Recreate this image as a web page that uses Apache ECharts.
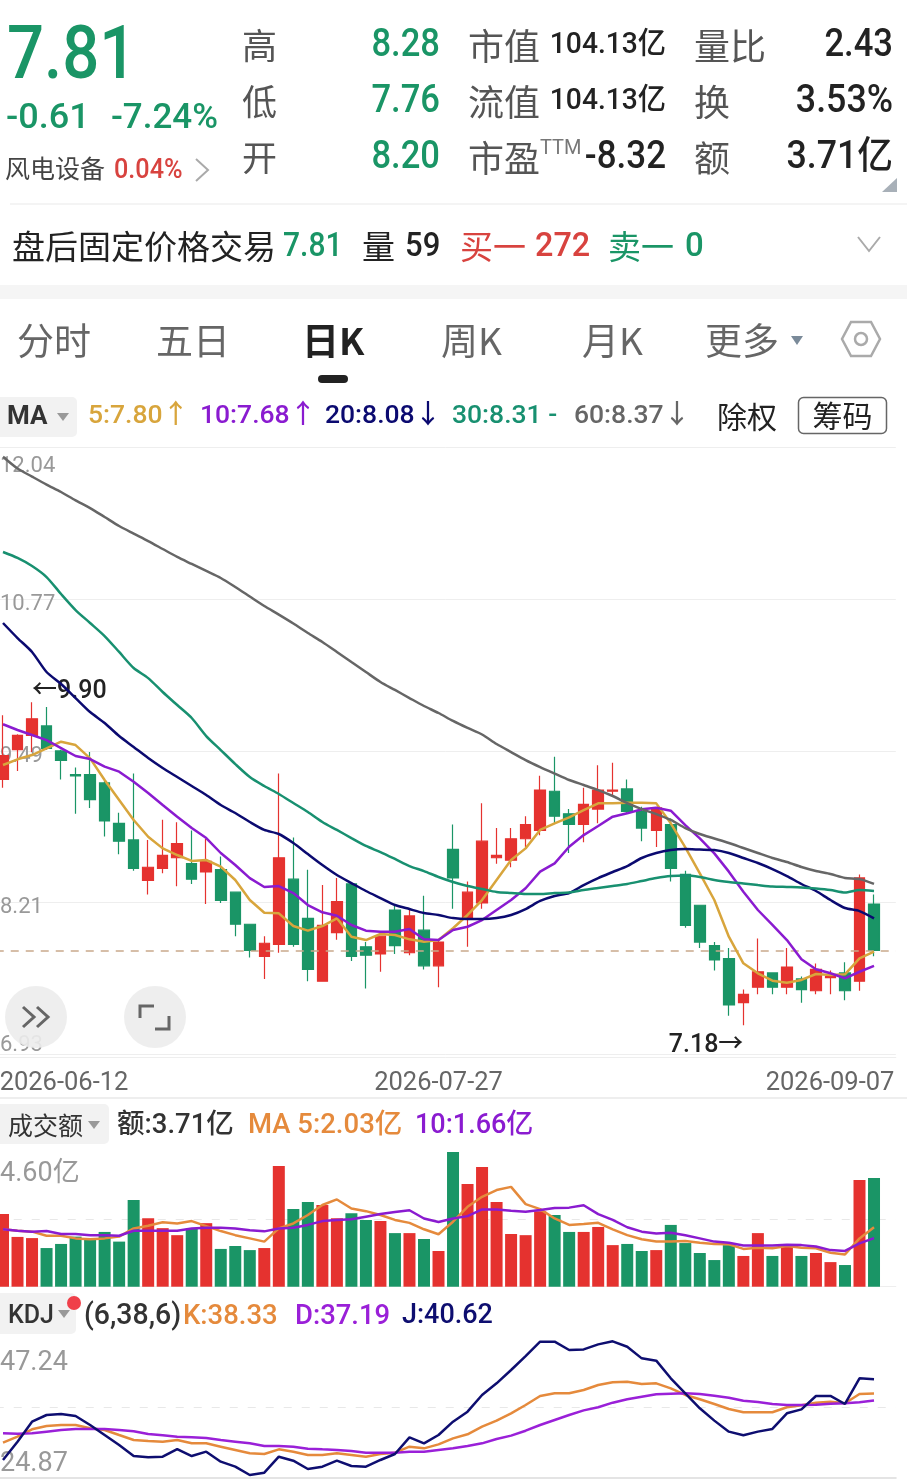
<!DOCTYPE html>
<html>
<head>
<meta charset="utf-8">
<style>html,body{margin:0;padding:0;background:#fff;overflow:hidden;width:907px;height:1480px}#c{position:absolute;left:-10px;top:0;width:917px;height:1480px}</style>
<script src="https://cdn.jsdelivr.net/npm/echarts@6/dist/echarts.min.js"></script>
</head>
<body>
<div id="c"></div>
<script>
const dates = ['2026-06-12','2026-06-15','2026-06-16','2026-06-17','2026-06-18','2026-06-22','2026-06-23','2026-06-24','2026-06-25','2026-06-26','2026-06-29','2026-06-30','2026-07-01','2026-07-02','2026-07-03','2026-07-06','2026-07-07','2026-07-08','2026-07-09','2026-07-10','2026-07-13','2026-07-14','2026-07-15','2026-07-16','2026-07-17','2026-07-20','2026-07-21','2026-07-22','2026-07-23','2026-07-24','2026-07-27','2026-07-28','2026-07-29','2026-07-30','2026-07-31','2026-08-03','2026-08-04','2026-08-05','2026-08-06','2026-08-07','2026-08-10','2026-08-11','2026-08-12','2026-08-13','2026-08-14','2026-08-17','2026-08-18','2026-08-19','2026-08-20','2026-08-21','2026-08-24','2026-08-25','2026-08-26','2026-08-27','2026-08-28','2026-08-31','2026-09-01','2026-09-02','2026-09-03','2026-09-04','2026-09-07'];
const opens = [9.25,9.50,9.62,9.70,9.49,9.29,9.29,9.22,8.88,8.74,8.40,8.50,8.59,8.54,8.47,8.49,8.30,8.03,7.76,7.86,8.41,8.08,7.55,7.96,8.37,7.84,7.78,8.15,7.79,7.98,7.68,8.66,8.08,8.21,8.59,8.57,8.75,8.82,9.15,8.96,8.87,9.00,9.15,9.17,8.98,8.82,8.87,8.45,8.19,7.85,7.74,7.37,7.50,7.62,7.50,7.57,7.47,7.58,7.62,7.55,8.20];
const closes = [9.45,9.62,9.76,9.51,9.41,9.28,9.08,8.90,8.73,8.50,8.51,8.61,8.71,8.41,8.56,8.23,8.03,7.81,7.87,8.59,7.86,7.65,8.02,8.22,7.76,7.77,7.93,7.85,8.10,7.68,7.88,8.42,8.30,8.73,8.61,8.75,8.87,9.16,8.94,8.87,9.04,9.16,9.16,8.98,8.84,9.01,8.50,8.02,7.88,7.73,7.35,7.44,7.63,7.50,7.67,7.48,7.65,7.59,7.47,8.42,7.81];
const lows = [9.18,9.32,9.48,9.50,9.25,8.96,9.01,8.77,8.62,8.48,8.28,8.46,8.35,8.37,8.20,8.21,7.93,7.75,7.57,7.79,7.84,7.55,7.55,7.90,7.72,7.49,7.63,7.78,7.77,7.65,7.50,8.16,7.84,8.16,8.54,8.51,8.68,8.78,8.88,8.63,8.72,8.88,9.11,8.97,8.73,8.68,8.39,8.00,7.83,7.64,7.26,7.18,7.44,7.44,7.44,7.37,7.44,7.44,7.39,7.47,7.76];
const highs = [9.79,9.63,9.90,9.86,9.50,9.35,9.48,9.24,8.97,9.30,8.74,8.91,8.89,8.82,8.75,8.60,8.30,8.03,7.93,9.30,8.76,8.49,8.36,8.42,8.37,7.88,7.93,8.19,8.16,8.27,7.89,8.87,8.39,9.05,8.84,8.84,8.94,9.28,9.44,9.00,9.18,9.37,9.39,9.25,9.02,9.01,8.92,8.48,8.19,7.88,7.83,7.48,7.91,7.62,7.83,7.59,7.70,7.64,7.71,8.45,8.28];
const ma5 = [9.371,9.419,9.455,9.511,9.567,9.539,9.427,9.245,9.076,8.908,8.767,8.669,8.613,8.563,8.571,8.515,8.403,8.234,8.127,8.122,8.015,7.976,8.015,8.08,7.925,7.897,7.948,7.939,7.903,7.883,7.897,7.996,8.108,8.234,8.403,8.571,8.669,8.824,8.88,8.93,8.992,9.048,9.048,9.053,9.053,9.048,8.88,8.678,8.459,8.234,7.925,7.701,7.617,7.555,7.538,7.561,7.611,7.603,7.608,7.743,7.80];
const ma10 = [9.714,9.666,9.624,9.581,9.514,9.447,9.421,9.357,9.315,9.23,9.135,9.034,8.936,8.84,8.756,8.63,8.529,8.419,8.344,8.352,8.293,8.192,8.131,8.102,8.024,7.976,7.967,7.967,7.99,7.903,7.897,7.981,8.009,8.065,8.15,8.234,8.333,8.473,8.543,8.683,8.781,8.857,8.936,8.964,8.998,9.011,8.986,8.865,8.753,8.627,8.473,8.304,8.15,8.024,7.897,7.735,7.651,7.617,7.575,7.63,7.68];
const ma20 = [10.567,10.44,10.323,10.154,10.053,9.935,9.817,9.725,9.615,9.523,9.43,9.346,9.27,9.194,9.118,9.034,8.967,8.891,8.824,8.79,8.714,8.621,8.529,8.445,8.377,8.31,8.251,8.192,8.158,8.125,8.108,8.082,8.074,8.074,8.082,8.108,8.158,8.226,8.268,8.293,8.36,8.419,8.47,8.52,8.588,8.63,8.655,8.663,8.659,8.655,8.63,8.588,8.546,8.495,8.436,8.369,8.31,8.234,8.167,8.141,8.08];
const ma30 = [11.165,11.115,11.047,10.954,10.811,10.676,10.567,10.457,10.323,10.188,10.103,9.986,9.876,9.767,9.615,9.497,9.379,9.27,9.194,9.127,9.051,8.975,8.891,8.824,8.756,8.689,8.638,8.58,8.52,8.478,8.428,8.386,8.352,8.327,8.302,8.293,8.285,8.285,8.293,8.297,8.318,8.335,8.352,8.369,8.394,8.419,8.436,8.44,8.428,8.403,8.386,8.373,8.36,8.348,8.344,8.34,8.331,8.318,8.297,8.318,8.31];
const ma60 = [11.967,11.868,11.8,11.733,11.67,11.60,11.535,11.46,11.384,11.32,11.257,11.19,11.123,11.064,11.005,10.946,10.87,10.79,10.71,10.638,10.563,10.483,10.407,10.323,10.238,10.154,10.07,10.003,9.935,9.868,9.809,9.742,9.683,9.628,9.548,9.48,9.413,9.354,9.299,9.245,9.203,9.16,9.11,9.05,9.0,8.958,8.908,8.84,8.79,8.752,8.714,8.672,8.63,8.588,8.554,8.512,8.478,8.453,8.42,8.41,8.37];
const turnover = [2.48,1.70,1.66,1.32,1.46,1.71,1.62,1.87,1.54,2.96,2.34,2.00,1.76,1.99,2.17,1.29,1.39,1.25,1.32,4.12,2.65,2.89,2.79,2.34,2.51,2.28,2.24,1.83,1.83,1.63,1.22,4.60,3.51,4.09,2.89,1.80,1.76,2.58,2.45,1.87,1.87,2.04,1.42,1.46,1.22,1.25,2.11,1.49,1.15,0.91,1.42,1.05,1.83,1.05,1.39,1.05,1.15,0.84,0.74,3.64,3.71];
const turnoverMa5 = [1.96,1.91,1.88,1.74,1.74,1.65,1.62,1.65,1.71,1.99,2.08,2.20,2.16,2.24,2.07,1.90,1.76,1.65,1.54,1.99,2.16,2.45,2.79,2.98,2.67,2.58,2.45,2.28,2.18,1.96,1.79,2.22,2.73,3.07,3.30,3.41,2.82,2.65,2.33,2.11,2.14,2.18,1.96,1.76,1.62,1.54,1.54,1.56,1.50,1.46,1.45,1.29,1.33,1.31,1.39,1.33,1.31,1.16,1.10,1.65,2.03];
const turnoverMa10 = [1.96,1.91,1.88,1.90,1.80,1.80,1.76,1.76,1.74,1.91,1.91,1.91,1.91,1.99,2.01,2.01,1.99,1.93,1.89,1.99,2.01,2.11,2.24,2.28,2.30,2.39,2.48,2.55,2.61,2.33,2.21,2.33,2.41,2.64,2.64,2.59,2.56,2.62,2.69,2.70,2.78,2.48,2.28,2.03,1.88,1.82,1.84,1.76,1.65,1.54,1.50,1.41,1.41,1.41,1.43,1.42,1.37,1.25,1.22,1.48,1.66];
const kdjK = [30.47,31.43,32.60,33.13,33.29,33.29,32.76,32.49,31.69,30.90,30.74,30.63,30.90,30.36,30.36,29.83,29.30,28.77,28.66,29.40,29.03,28.50,28.50,28.77,28.50,28.23,28.66,28.87,29.83,29.56,30.20,31.16,31.80,33.02,33.99,35.16,36.49,37.93,38.35,38.35,38.89,39.69,40.11,40.21,39.84,39.95,39.15,38.09,37.40,36.65,35.85,35.32,35.32,35.32,36.12,36.44,36.86,37.02,36.76,38.25,38.33];
const kdjD = [31.96,31.90,31.96,32.23,32.49,32.65,32.65,32.65,32.49,32.28,31.85,31.64,31.43,31.32,31.21,30.90,30.63,30.36,29.94,29.94,29.83,29.51,29.40,29.30,29.13,28.87,28.87,28.87,29.03,29.03,29.30,29.56,29.94,30.36,31.06,31.59,32.38,33.29,34.09,34.89,35.63,36.12,36.86,37.40,37.82,38.19,38.30,38.35,38.25,37.98,37.66,37.18,36.97,36.65,36.49,36.49,36.54,36.70,36.76,36.92,37.19];
const kdjJ = [27.70,30.63,33.82,34.89,35.05,34.73,33.29,31.69,30.09,28.33,28.12,28.23,29.45,28.33,29.03,27.43,26.63,25.30,25.67,28.23,27.59,26.26,26.63,27.59,26.74,26.63,27.70,28.66,31.32,30.36,31.69,33.82,35.42,38.09,39.95,42.08,44.31,46.60,46.60,45.27,45.37,46.17,46.66,45.80,43.94,43.57,40.75,38.35,35.96,33.99,32.23,31.64,32.23,32.66,35.16,35.79,37.93,37.93,36.65,40.75,40.62];
const priceTicks = [6.934,8.2115,9.489,10.7665,12.044];
const lastPrice = 7.81;
const highMark = 9.90, lowMark = 7.18;
const highMarkDate = '2026-06-16', lowMarkDate = '2026-08-25';
const dateTickIndexes = [0,30,60];
const turnoverTop = 4.60;
const kdjTop = 47.24, kdjBottom = 24.87;

const RED='#e5322f', GREEN='#1a9566', C5='#d8a53c', C10='#8a1bd0', C20='#0b0a70', C30='#189070', C60='#666666', ORANGE='#e58a3c', DP='#9a20d8', JN='#0e0e70';
const ROBOTO='Roboto,"Noto Sans CJK SC",sans-serif';
const CJK='"Noto Sans CJK SC",sans-serif';

const G=[];
function t(text,x,y,size,fill,align,sx,weight){
  G.push({type:'text',x:x,y:y+size*0.09,scaleX:sx||1,silent:true,z:50,style:{text:text,fill:fill,font:(weight||'500')+' '+size+'px '+ROBOTO,align:align||'left',verticalAlign:'middle'}});
}
function c(text,x,y,size,fill,align,weight){
  G.push({type:'text',x:x,y:y,silent:true,z:50,style:{text:text,fill:fill,font:(weight||'normal')+' '+size+'px '+CJK,align:align||'left',verticalAlign:'middle'}});
}
function rect(x,y,w,h,fill,r,stroke){
  G.push({type:'rect',silent:true,z:40,shape:{x:x,y:y,width:w,height:h,r:r||0},style:{fill:fill,stroke:stroke||null,lineWidth:stroke?1.5:0}});
}
function pline(pts,stroke,lw){
  G.push({type:'polyline',silent:true,z:50,shape:{points:pts},style:{stroke:stroke,lineWidth:lw||2,fill:null}});
}
function poly(pts,fill){G.push({type:'polygon',silent:true,z:50,shape:{points:pts},style:{fill:fill}});}

// header quote
t('7.81',7,52,75,GREEN,'left',0.87);
t('-0.61',6,116,35,GREEN,'left',1.03);
t('-7.24%',218,116,35,GREEN,'right',1.0);
c('风电设备',5,168,25,'#444');
t('0.04%',114,168,28,'#d8433f','left',0.9);
pline([[196,159],[208,170],[196,181]],'#aaa',2);
const labelC='#555', dark='#222';
c('高',242,46,35,labelC);
c('低',242,102,35,labelC);
c('开',242,158,35,labelC);
t('8.28',440,43,38,GREEN,'right',0.91);
t('7.76',440,99,38,GREEN,'right',0.91);
t('8.20',440,155,38,GREEN,'right',0.91);
c('市值',468,46,36,labelC);
c('流值',468,102,36,labelC);
c('市盈',468,158,36,labelC);
t('TTM',540,147,20,'#777','left',1,'normal');
t('104.13亿',666,43,30,dark,'right',0.94);
t('104.13亿',666,99,30,dark,'right',0.94);
t('-8.32',666,155,38,dark,'right',0.92);
c('量比',694,46,36,labelC);
c('换',694,102,36,labelC);
c('额',694,158,36,labelC);
t('2.43',893,43,38,dark,'right',0.91);
t('3.53%',893,99,38,dark,'right',0.94);
t('3.71亿',893,155,38,dark,'right',0.94);
poly([[897,178],[897,192],[882,192]],'#a8b0b8');
rect(10,203.5,897,1,'#eaeaea');
// after-hours row
c('盘后固定价格交易',12,246,33,dark);
t('7.81',283,245,33,GREEN,'left',0.91);
c('量',362,246,33,dark);
t('59',405,245,33,dark,'left',0.94);
c('买一',460,246,33,'#d8433f');
t('272',535,245,33,'#d8433f','left',0.98);
c('卖一',608,246,33,GREEN);
t('0',685,245,33,GREEN);
pline([[858,237],[869,251],[880,237]],'#aaa',2);
rect(0,285,907,14,'#f5f5f5');
// tabs
c('分时',17,341,37,'#666');
c('五日',156,341,37,'#666');
c('日K',302,341,37,'#222','left','bold');
c('周K',441,341,37,'#666');
c('月K',582,341,37,'#666');
c('更多',705,341,37,'#666');
poly([[791,336],[803,336],[797,345]],'#7a8a99');
G.push({type:'polygon',silent:true,z:50,shape:{points:[[851,322],[871,322],[880,339],[871,356],[851,356],[842,339]]},style:{fill:null,stroke:'#aaa',lineWidth:2.5}});
G.push({type:'circle',silent:true,z:50,shape:{cx:861,cy:339,r:6},style:{fill:null,stroke:'#aaa',lineWidth:2.5}});
rect(318,375,30,8,'#222',4);
// MA row
rect(-6,397,83,40,'#f2f2f2',5);
t('MA',7,415,26,'#333','left',1,'bold');
poly([[57,413],[69,413],[63,421]],'#999');
t('5:7.80↑',88,414,26.5,C5);
t('10:7.68↑',200,414,26.5,C10);
t('20:8.08↓',325,414,26.5,C20);
t('30:8.31 -',452,414,26.5,C30);
t('60:8.37↓',574,414,26.5,C60);
c('除权',717,417,30,dark);
rect(798.5,397.5,88,36,'#fff',5,'#666');
c('筹码',842.5,416,30,dark,'center');
// overlay buttons
G.push({type:'circle',silent:true,z:45,shape:{cx:36,cy:1017,r:31},style:{fill:'rgba(236,236,236,0.9)'}});
G.push({type:'circle',silent:true,z:45,shape:{cx:155,cy:1017,r:31},style:{fill:'rgba(236,236,236,0.9)'}});
pline([[23,1007],[34,1017],[23,1027]],'#666',3);
pline([[37,1007],[48,1017],[37,1027]],'#666',3);
pline([[140,1018],[140,1006],[154,1006]],'#666',3);
pline([[169,1016],[169,1029],[155,1029]],'#666',3);
// separators
rect(0,1097,907,2,'#eeeeee');
// turnover header
rect(-6,1104,115,40,'#f2f2f2',5);
c('成交额',8,1125,25,'#333');
poly([[88,1121],[100,1121],[94,1129]],'#999');
t('额:3.71亿',117,1124,27.5,'#333');
t('MA 5:2.03亿',248,1124,27.5,ORANGE);
t('10:1.66亿',415,1124,27,C10);
// KDJ header
rect(-6,1293,82,41,'#f2f2f2',5);
t('KDJ',8,1314,25,'#333');
poly([[58,1310],[70,1310],[64,1318]],'#999');
G.push({type:'circle',silent:true,z:50,shape:{cx:74,cy:1303,r:7},style:{fill:'#f0404a'}});
t('(6,38,6)',84,1314,29,'#333','left',0.98);
t('K:38.33',183,1314,28,ORANGE,'left',0.98);
t('D:37.19',295,1314,28,DP,'left',0.98);
t('J:40.62',402,1314,27.5,JN,'left',0.98);

const cats = dates.concat(['']);
const candle = dates.map((d,i)=>[opens[i],closes[i],lows[i],highs[i]]);
const volData = turnover.map((v,i)=>({value:v,itemStyle:{color:closes[i]>opens[i]?RED:GREEN}}));
const GL=5.74, GW=900.05;
const line=(name,data,color,xi,yi,w,sm)=>({name,type:'line',data,xAxisIndex:xi,yAxisIndex:yi,symbol:'none',smooth:sm||false,silent:true,lineStyle:{color,width:w||2.5},itemStyle:{color},z:5});
const markFont='Roboto,"Noto Sans CJK SC"';

const option={
  animation:false,
  backgroundColor:'#fff',
  grid:[
    {left:GL,top:447.6,width:GW,height:606.8},
    {left:GL,top:1152,width:GW,height:134.7},
    {left:GL,top:1337.7,width:GW,height:140}
  ],
  xAxis:[
    {type:'category',data:cats,gridIndex:0,boundaryGap:true,offset:3,
     axisLine:{show:true,lineStyle:{color:'#eeeeee',width:1}},axisTick:{show:false},splitLine:{show:false},
     axisLabel:{show:true,interval:(i)=>dateTickIndexes.includes(i),margin:13,hideOverlap:false,
       formatter:(v,i)=> i===0?'{a|'+v+'}':(i===60?'{c|'+v+'}':'{b|'+v+'}'),
       rich:{
         a:{fontFamily:'Roboto',fontSize:25.5,color:'#666',padding:[0,0,0,122]},
         b:{fontFamily:'Roboto',fontSize:25.5,color:'#666'},
         c:{fontFamily:'Roboto',fontSize:25.5,color:'#666',padding:[0,88,0,0]}
       }}},
    {type:'category',data:cats,gridIndex:1,boundaryGap:true,axisLine:{show:true,lineStyle:{color:'#eeeeee'}},axisTick:{show:false},axisLabel:{show:false},splitLine:{show:false}},
    {type:'category',data:cats,gridIndex:2,boundaryGap:true,axisLine:{show:true,lineStyle:{color:'#e4e4e4',width:2}},axisTick:{show:false},axisLabel:{show:false},splitLine:{show:false}}
  ],
  yAxis:[
    {type:'value',gridIndex:0,min:priceTicks[0],max:priceTicks[4],scale:true,
     axisLine:{show:false},
     axisTick:{show:false,customValues:priceTicks},
     splitLine:{show:true,lineStyle:{color:'#eeeeee',width:1}},
     axisLabel:{inside:true,margin:4.26,customValues:priceTicks,hideOverlap:false,
       verticalAlignMaxLabel:'top',verticalAlignMinLabel:'bottom',
       formatter:(v)=>{const s=v.toFixed(2);return v>12?'{t|'+s+'}':(v<7?'{n|'+s+'}':'{m|'+s+'}');},
       rich:{
         t:{fontFamily:'Roboto',fontSize:22,color:'#999',padding:[8,0,0,0]},
         m:{fontFamily:'Roboto',fontSize:22,color:'#999',padding:[10,0,0,0]},
         n:{fontFamily:'Roboto',fontSize:22,color:'#999',lineHeight:18}
       }}},
    {type:'value',gridIndex:1,min:0,max:turnoverTop,
     axisLine:{show:false},
     axisTick:{show:false,customValues:[turnoverTop/2]},
     splitLine:{show:true,lineStyle:{color:'#e8e8e8',type:[8,10],width:1}},
     axisLabel:{inside:true,margin:4.26,customValues:[turnoverTop],verticalAlignMaxLabel:'top',verticalAlignMinLabel:'top',
       formatter:(v)=>'{t|'+v.toFixed(2)+'亿}',
       rich:{t:{fontFamily:'Roboto,"Noto Sans CJK SC"',fontSize:27,color:'#999',padding:[9,0,0,0]}}}},
    {type:'value',gridIndex:2,min:kdjBottom,max:kdjTop,
     axisLine:{show:false},
     axisTick:{show:false,customValues:[(kdjTop+kdjBottom)/2]},
     splitLine:{show:true,lineStyle:{color:'#e8e8e8',type:[8,10],width:1}},
     axisLabel:{inside:true,margin:4.26,customValues:[kdjBottom,kdjTop],verticalAlignMaxLabel:'top',verticalAlignMinLabel:'bottom',
       formatter:(v)=> v>40?'{t|'+v.toFixed(2)+'}':'{n|'+v.toFixed(2)+'}',
       rich:{t:{fontFamily:'Roboto',fontSize:27,color:'#999',padding:[12,0,0,0]},
             n:{fontFamily:'Roboto',fontSize:27,color:'#999'}}}}
  ],
  series:[
    {name:'K',type:'candlestick',data:candle,xAxisIndex:0,yAxisIndex:0,barWidth:11,silent:true,z:3,
     itemStyle:{color:RED,color0:GREEN,borderColor:RED,borderColor0:GREEN,borderWidth:1.2},
     markLine:{silent:true,symbol:'none',animation:false,label:{show:false},
       lineStyle:{color:'#c9a98c',type:[8,7],width:1.5},data:[{yAxis:lastPrice}]},
     markPoint:{silent:true,symbol:'circle',symbolSize:0,animation:false,
       data:[
         {coord:[highMarkDate,highMark],label:{show:true,position:'right',distance:0,offset:[0,-10],formatter:'←'+highMark.toFixed(2),fontSize:25,fontWeight:500,fontFamily:markFont,color:'#222'}},
         {coord:[lowMarkDate,lowMark],label:{show:true,position:'left',distance:0,offset:[0,21],formatter:lowMark.toFixed(2)+'→',fontSize:25,fontWeight:500,fontFamily:markFont,color:'#222'}}
       ]}},
    line('MA5',ma5,C5,0,0),
    line('MA10',ma10,C10,0,0),
    line('MA20',ma20,C20,0,0,2.5,0.25),
    line('MA30',ma30,C30,0,0,2.5,0.25),
    line('MA60',ma60,C60,0,0,2.5,0.25),
    {name:'成交额',type:'bar',data:volData,xAxisIndex:1,yAxisIndex:1,barWidth:12,silent:true,z:3},
    line('成交额MA5',turnoverMa5,ORANGE,1,1),
    line('成交额MA10',turnoverMa10,C10,1,1),
    line('K值',kdjK,ORANGE,2,2),
    line('D值',kdjD,DP,2,2),
    line('J值',kdjJ,JN,2,2)
  ],
  graphic:{elements:[{type:'group',x:10,y:0,children:G}]}
};
const chart=echarts.init(document.getElementById('c'),null,{renderer:'canvas',width:917,height:1480});
chart.setOption(option);
</script>
</body>
</html>
